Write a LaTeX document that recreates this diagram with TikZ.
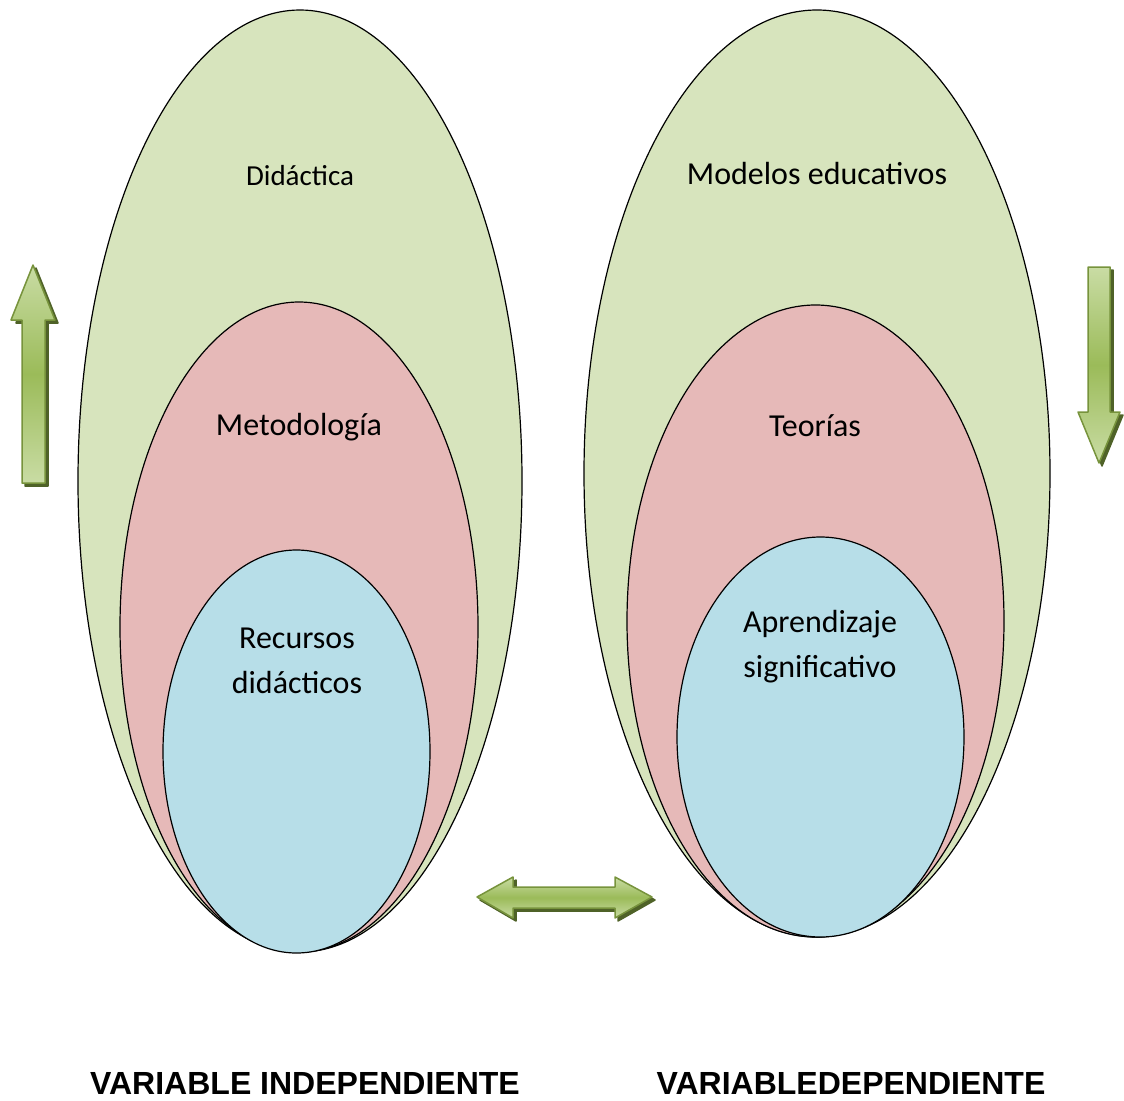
\documentclass[tikz,border=0pt]{standalone}
\usepackage{fontspec}
\setmainfont{Carlito}
\newfontfamily\arialfont{Liberation Sans}
\usepackage{tikz}

\definecolor{verdeclaro}{HTML}{D7E4BD}
\definecolor{rosa}{HTML}{E6B9B8}
\definecolor{celeste}{HTML}{B7DEE8}
\definecolor{verdeborde}{HTML}{77933C}
\definecolor{verdesombra}{HTML}{4F6228}
\definecolor{verdeluz}{HTML}{C9DCA4}
\definecolor{verdemedio}{HTML}{9BBB59}

\begin{document}
\begin{tikzpicture}[x=1pt,y=1pt,yscale=-1,
  elipse/.style={draw=black,line width=1.2pt},
  etiqueta/.style={inner sep=0pt,align=center,font=\fontsize{32}{45}\selectfont},
  titulo/.style={inner sep=0pt,font=\arialfont\bfseries\fontsize{32}{38}\selectfont},
  flecha/.style={draw=verdeborde,line width=1.5pt,line join=round,top color=verdeluz,bottom color=verdeluz,middle color=verdemedio},
  sombra/.style={fill=verdesombra,draw=verdesombra,line width=1.5pt,line join=round}]
\useasboundingbox (0,0) rectangle (1124,1100);

%Shape: Ellipse [left outer]
\draw [elipse,fill=verdeclaro] (300,481) ellipse (222 and 471);
%Shape: Ellipse [left middle]
\draw [elipse,fill=rosa] (299,627) ellipse (179 and 325);
%Shape: Ellipse [left inner]
\draw [elipse,fill=celeste] (296.5,751.5) ellipse (133.5 and 201.5);

%Shape: Ellipse [right outer]
\draw [elipse,fill=verdeclaro] (817,473.5) ellipse (233 and 463.5);
%Shape: Ellipse [right middle]
\draw [elipse,fill=rosa] (815.5,621) ellipse (188.5 and 316);
%Shape: Ellipse [right inner]
\draw [elipse,fill=celeste] (820.5,737) ellipse (143.5 and 200);

%Shape: Up Arrow
\fill [sombra] (36,268) -- (58,323) -- (48,323) -- (48,486) -- (25,486) -- (25,323) -- (16,323) -- cycle;
\shade [flecha] (33,265) -- (55,320) -- (45,320) -- (45,483) -- (22,483) -- (22,320) -- (11,320) -- cycle;

%Shape: Down Arrow
\fill [sombra] (1091,270) -- (1113,270) -- (1113,415) -- (1123,415) -- (1102,466) -- (1081,415) -- (1091,415) -- cycle;
\shade [flecha] (1088,267) -- (1110,267) -- (1110,412) -- (1120,412) -- (1099,463) -- (1078,412) -- (1088,412) -- cycle;

%Shape: Left Right Arrow
\fill [sombra] (480,900) -- (516,880) -- (516,890) -- (618,890) -- (618,880) -- (655,900) -- (618,921) -- (618,911) -- (516,911) -- (516,921) -- cycle;
\shade [flecha] (477,897) -- (513,877) -- (513,887) -- (615,887) -- (615,877) -- (652,897) -- (615,918) -- (615,908) -- (513,908) -- (513,918) -- cycle;

% Text Node
\node [etiqueta,font=\fontsize{29}{45}\selectfont] (didactica) at (300,176) {Didáctica};
% Text Node
\node [etiqueta] (metodologia) at (299,427) {Metodología};
% Text Node
\node [etiqueta] (recursos) at (297,661) {Recursos\\didácticos};
% Text Node
\node [etiqueta] (modelos) at (817,174) {Modelos educativos};
% Text Node
\node [etiqueta] (teorias) at (815,426) {Teorías};
% Text Node
\node [etiqueta] (aprendizaje) at (820,647) {Aprendizaje\\significativo};

% Text Node
\node [titulo] (independiente) at (305,1083) {VARIABLE INDEPENDIENTE};
% Text Node
\node [titulo] (dependiente) at (851,1083) {VARIABLEDEPENDIENTE};

\end{tikzpicture}
\end{document}
